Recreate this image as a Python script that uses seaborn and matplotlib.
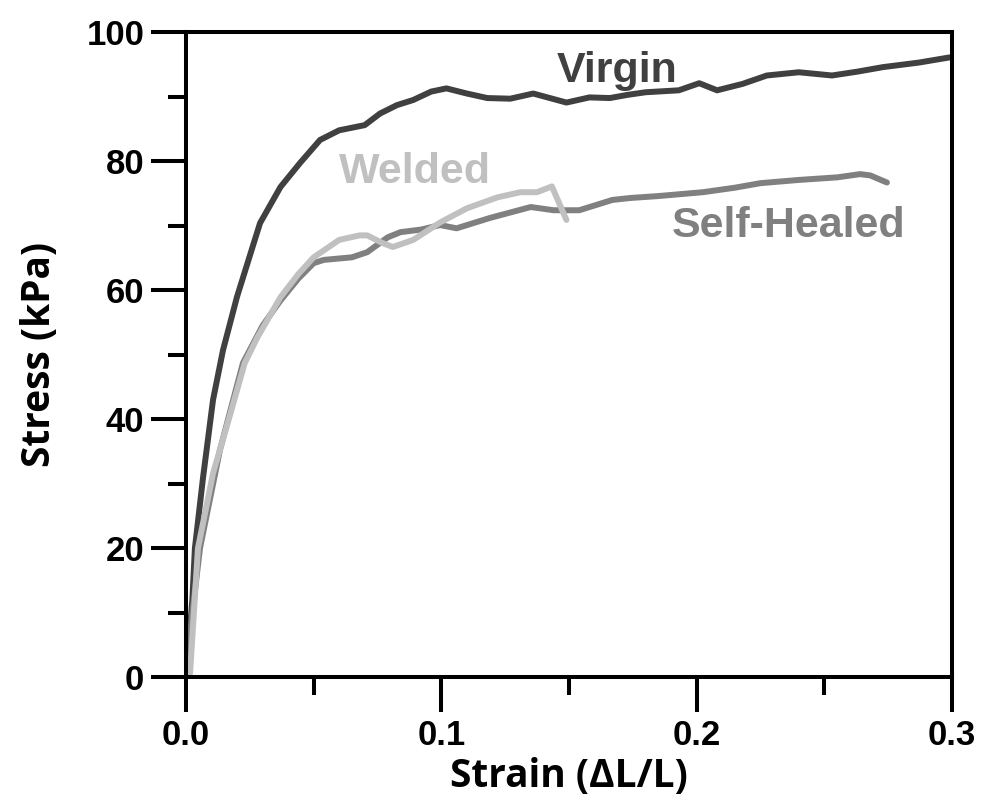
import numpy as np
import pandas as pd
import seaborn as sns
import matplotlib.pyplot as plt
from matplotlib.ticker import MultipleLocator

# Curves (strain, stress in kPa)
virgin_strain = [0.0, 0.0025, 0.0035, 0.0067, 0.0106, 0.0145, 0.020, 0.029, 0.037,
                 0.0446, 0.0525, 0.060, 0.070, 0.076, 0.0826, 0.089, 0.096, 0.102,
                 0.110, 0.118, 0.127, 0.136, 0.149, 0.158, 0.166, 0.173, 0.180,
                 0.193, 0.201, 0.208, 0.218, 0.2275, 0.240, 0.253, 0.263, 0.273,
                 0.287, 0.299]
virgin_stress = [0.0, 12.0, 20.0, 31.0, 43.0, 50.7, 59.0, 70.4, 76.0,
                 79.7, 83.3, 84.8, 85.6, 87.4, 88.7, 89.5, 90.8, 91.3,
                 90.5, 89.8, 89.7, 90.5, 89.1, 89.9, 89.8, 90.3, 90.7,
                 91.0, 92.1, 91.0, 92.0, 93.3, 93.8, 93.3, 93.9, 94.6,
                 95.3, 96.1]

healed_strain = [0.0, 0.0025, 0.0055, 0.0133, 0.0223, 0.030, 0.037, 0.044, 0.050,
                 0.054, 0.065, 0.071, 0.079, 0.084, 0.092, 0.0995, 0.106, 0.119,
                 0.135, 0.144, 0.154, 0.167, 0.174, 0.185, 0.2025, 0.215, 0.225,
                 0.240, 0.255, 0.264, 0.268, 0.2745]
healed_stress = [0.0, 10.0, 20.0, 35.2, 48.7, 54.5, 58.4, 61.8, 64.2,
                 64.7, 65.1, 65.9, 68.2, 69.0, 69.4, 70.1, 69.6, 71.2,
                 72.9, 72.4, 72.4, 74.0, 74.3, 74.6, 75.2, 75.9, 76.6,
                 77.1, 77.5, 78.0, 77.8, 76.7]

welded_strain = [0.0016, 0.0047, 0.0106, 0.017, 0.023, 0.028, 0.037, 0.044, 0.050,
                 0.060, 0.068, 0.071, 0.077, 0.081, 0.089, 0.0995, 0.110, 0.122,
                 0.131, 0.1375, 0.1433, 0.149]
welded_stress = [0.6, 20.0, 31.6, 40.3, 48.7, 52.7, 58.9, 62.5, 65.1,
                 67.8, 68.5, 68.5, 67.3, 66.7, 67.8, 70.5, 72.7, 74.4,
                 75.2, 75.2, 76.1, 70.9]

series = ["Virgin", "Self-Healed", "Welded"]
colors = {"Virgin": "#404040", "Self-Healed": "#808080", "Welded": "#c0c0c0"}

df = pd.concat([
    pd.DataFrame({"strain": virgin_strain, "stress": virgin_stress, "sample": "Virgin"}),
    pd.DataFrame({"strain": healed_strain, "stress": healed_stress, "sample": "Self-Healed"}),
    pd.DataFrame({"strain": welded_strain, "stress": welded_stress, "sample": "Welded"}),
], ignore_index=True)

sns.set_style("white")
plt.rcParams["font.family"] = ["Liberation Sans", "DejaVu Sans"]

fig = plt.figure(figsize=(9.84, 8.07), dpi=100)
ax = fig.add_axes([0.189, 0.161, 0.7785, 0.799])

sns.lineplot(data=df, x="strain", y="stress", hue="sample", hue_order=series,
             palette=colors, sort=False, estimator=None, linewidth=4.3,
             legend=False, ax=ax)

ax.set_xlim(0, 0.3)
ax.set_ylim(0, 100)
ax.xaxis.set_major_locator(MultipleLocator(0.1))
ax.xaxis.set_minor_locator(MultipleLocator(0.05))
ax.yaxis.set_major_locator(MultipleLocator(20))
ax.yaxis.set_minor_locator(MultipleLocator(10))
ax.set_xticklabels([f"{v:.1f}" for v in ax.get_xticks()])

for s in ax.spines.values():
    s.set_linewidth(2.9)
    s.set_color("black")
ax.tick_params(which="major", direction="out", length=25, width=2.9,
               labelsize=25, pad=5, bottom=True, left=True,
               color="black", labelcolor="black")
ax.tick_params(which="minor", direction="out", length=13, width=2.9,
               bottom=True, left=True, color="black")
for lbl in ax.get_xticklabels() + ax.get_yticklabels():
    lbl.set_fontweight("bold")

ax.set_xlabel("Strain (\u0394L/L)", fontsize=28, fontweight="bold", color="black",
              family=["Open Sans", "DejaVu Sans"], labelpad=4)
ax.set_ylabel("Stress (kPa)", fontsize=28, fontweight="bold", color="black",
              family=["Open Sans", "DejaVu Sans"], labelpad=20)

# curve labels
ax.text(0.169, 94.0, "Virgin", color=colors["Virgin"], fontsize=31,
        fontweight="bold", ha="center", va="center")
ax.text(0.236, 70.0, "Self-Healed", color=colors["Self-Healed"], fontsize=31,
        fontweight="bold", ha="center", va="center")
ax.text(0.0895, 78.3, "Welded", color=colors["Welded"], fontsize=31,
        fontweight="bold", ha="center", va="center")

plt.savefig("out.png", dpi=100)
